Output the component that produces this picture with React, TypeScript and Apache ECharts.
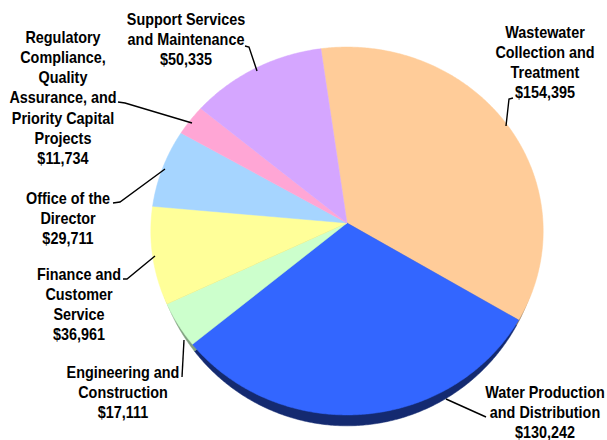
import React, { useEffect, useRef } from "react";
import * as echarts from "echarts";

const divisions = [
  "Wastewater\nCollection and\nTreatment",
  "Water Production\nand Distribution",
  "Engineering and\nConstruction",
  "Finance and\nCustomer\nService",
  "Office of the\nDirector",
  "Regulatory\nCompliance,\nQuality\nAssurance, and\nPriority Capital\nProjects",
  "Support Services\nand Maintenance",
];
const amounts = [154395, 130242, 17111, 36961, 29711, 11734, 50335];
const faceColors = ["#FFCC99", "#3366FF", "#CCFFCC", "#FFFF99", "#A6D5FF", "#FFA6D5", "#D5A6FF"];
const sideColors = ["#7F664C", "#142A70", "#7FA07F", "#80804C", "#536A80", "#805366", "#6A5380"];

const labelX = [545, 545, 123, 79, 68, 63, 186];
const labelTop = [22, 382, 362, 264, 188, 27, 9];
const leaderLines = [
  [[506, 126], [509, 99], [513, 98]],
  [[446, 399], [486, 417]],
  [[184, 340], [182, 377]],
  [[155, 256], [127, 279], [123, 279]],
  [[165, 169], [120, 202], [113, 203]],
  [[192, 123], [125, 103], [118, 102]],
  [[257, 71], [249, 47], [245, 46]],
];

const total = amounts.reduce((a, b) => a + b, 0);
const START_DEG = -8;
const CX = 347;
const APEX_Y = 223;
const TILT = 0.0435;

function arc(i: number, a: number, b: number, lowerOnly = false): number[][] {
  let before = 0;
  for (let k = 0; k < i; k++) before += amounts[k];
  const a0 = START_DEG + (before / total) * 360;
  const a1 = a0 + (amounts[i] / total) * 360;
  const pts: number[][] = [];
  const n = Math.ceil(a1 - a0) * 2;
  for (let s = 0; s <= n; s++) {
    const t = ((a0 + ((a1 - a0) * s) / n) * Math.PI) / 180;
    const sn = Math.sin(t);
    const c = -Math.cos(t);
    if (lowerOnly && c < 0) continue;
    const w = 1 - TILT * c;
    pts.push([CX + (a * sn) / w, APEX_Y + (b * c) / w]);
  }
  return pts;
}

const money = (v: number) => "$" + v.toLocaleString("en-US");

export default function App() {
  const ref = useRef<HTMLDivElement>(null);
  useEffect(() => {
    document.body.style.margin = "0";
    const chart = echarts.init(ref.current!, null, { renderer: "svg" });
    const rows = amounts.map((v, i) => ({ name: divisions[i].replace(/\n/g, " "), value: v }));
    chart.setOption({
      animation: false,
      backgroundColor: "#ffffff",
      series: [
        {
          type: "custom",
          coordinateSystem: "none",
          silent: true,
          z: 1,
          data: rows,
          renderItem: (p: any) => {
            const pts = arc(p.dataIndex, 193.5, 194, true);
            if (pts.length < 2) return { type: "group", children: [] };
            return {
              type: "polygon",
              shape: { points: [[CX, APEX_Y], ...pts] },
              style: { fill: sideColors[p.dataIndex], stroke: sideColors[p.dataIndex], lineWidth: 0.5 },
            };
          },
        },
        {
          type: "custom",
          coordinateSystem: "none",
          silent: true,
          z: 2,
          data: rows,
          renderItem: (p: any) => ({
            type: "polygon",
            shape: { points: [[CX, APEX_Y], ...arc(p.dataIndex, 196, 183.6)] },
            style: { fill: faceColors[p.dataIndex], stroke: faceColors[p.dataIndex], lineWidth: 0.5 },
          }),
        },
      ],
      graphic: [
        ...leaderLines.map((pts) => ({
          type: "polyline",
          z: 5,
          shape: { points: pts },
          style: { stroke: "#000000", lineWidth: 1.4, fill: "none" },
        })),
        ...divisions.map((d, i) => ({
          type: "text",
          z: 6,
          x: labelX[i],
          y: labelTop[i],
          scaleX: 0.9,
          style: {
            text: d + "\n" + money(amounts[i]),
            fill: "#000000",
            font: 'bold 16px "Liberation Sans", Arial, sans-serif',
            lineHeight: 20.2,
            align: "center",
            verticalAlign: "top",
          },
        })),
      ],
    });
    return () => chart.dispose();
  }, []);
  return <div ref={ref} style={{ position: "absolute", left: 0, top: 0, width: 607, height: 440 }} />;
}
